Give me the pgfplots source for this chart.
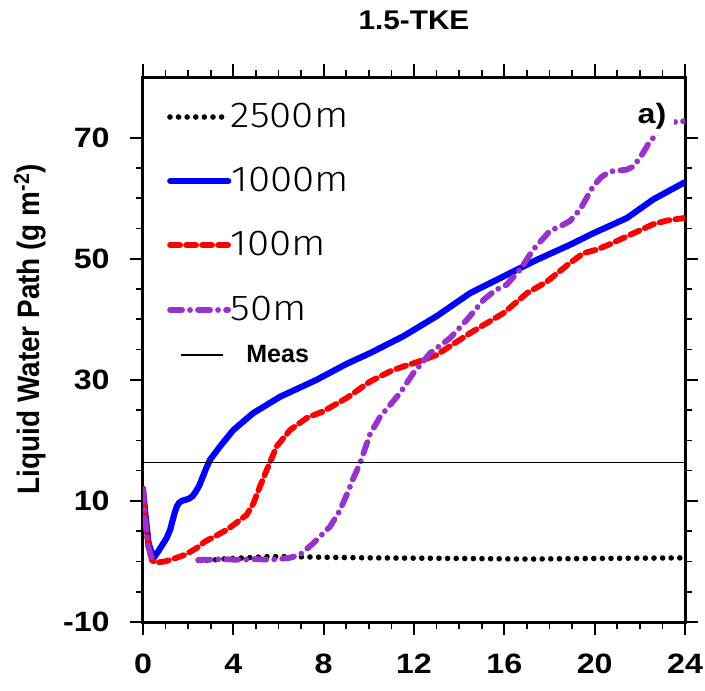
\documentclass[border=0pt]{standalone}
\usepackage{fontspec}
\setmainfont{Liberation Sans}
\newfontfamily\tickf{Liberation Sans}[FakeStretch=1.15]
\newfontfamily\titlef{Liberation Sans}[FakeStretch=1.1]
\newfontfamily\labf{Liberation Sans}[FakeStretch=0.9]
\newfontfamily\lightf{Fira Sans Light}[FakeStretch=1.12]
\usepackage{pgfplots}
\pgfplotsset{compat=1.18}
\definecolor{ncpurple}{RGB}{153,50,204}
\newcommand\tickfont{\tickf\bfseries\fontsize{14bp}{14bp}\selectfont}
\newcommand\LF{\lightf\fontsize{18bp}{18bp}\selectfont}
\pgfplotsset{
  base/.style={
    scale only axis, width=271bp, height=272.5bp,
    xmin=0, xmax=24, ymin=-10, ymax=80,
    unbounded coords=jump,
    legend cell align=left,
    legend style={draw=none, fill=none, inner sep=0pt, outer sep=0pt,
      /tikz/column sep=0pt, nodes={inner sep=0pt}, anchor=west},
    legend image code/.code={\draw[##1] (0bp,0bp) -- (29bp,0bp);},
  },
  over/.style={base, hide axis},
}
\begin{document}
\begin{tikzpicture}
% frame axis with 2500m
\begin{axis}[
  base,
  xtick={0,4,...,24}, ytick={-10,10,...,70},
  minor x tick num=3, minor y tick num=3,
  tick align=outside,
  major tick length=6.5bp, minor tick length=3.5bp,
  every major tick/.append style={line width=1bp, black},
  every minor tick/.append style={line width=0.8bp, black},
  axis line style={line width=1.5bp},
  /pgf/number format/assume math mode=true,
  ticklabel style={font=\tickfont},
  xticklabel style={anchor=north, inner sep=0pt, yshift=-9.5bp},
  yticklabel style={anchor=east, inner sep=0pt, xshift=-10bp},
  title={1.5-TKE},
  every axis title/.style={at={(axis description cs:0.5,1.104)}, anchor=center, font=\titlef\bfseries\fontsize{13.5bp}{13.5bp}\selectfont},
  ylabel={Liquid Water Path (g m\textsuperscript{-2})},
  ylabel style={at={(axis description cs:-0.2085,0.5376)}, anchor=center, font=\labf\bfseries\fontsize{15.5bp}{15.5bp}\selectfont},
  legend style={at={(axis description cs:0.0446,0.9266)}},
]
\addplot[black, line width=2.8bp, line cap=round, dash pattern=on 0bp off 4.3bp] coordinates {
(0,12.0) (0.1,8) (0.25,2.5) (0.45,0.4) (1.5,nan)
(2.45,0.2) (3,0.2) (3.5,0.4) (4,0.5) (5,0.7) (5.5,0.8) (6.5,0.8) (8,0.7) (10,0.6)
(12,0.55) (14,0.5) (17,0.4) (20,0.5) (22,0.55) (24,0.6)};
\addlegendentry{\LF 2500m}
\coordinate (bl) at (axis description cs:-0.2638,-0.1248);
\coordinate (tr) at (axis description cs:1.0369,1.1413);
\end{axis}
% 1000m
\begin{axis}[over, legend style={at={(axis description cs:0.0446,0.8092)}}]
\addplot[blue, line width=3.1bp, line cap=round, line join=round] coordinates {
(0,12) (0.1,8) (0.25,3) (0.46,0.5) (0.7,1.8) (0.9,3.0) (1.05,3.9) (1.2,5.2) (1.3,6.6)
(1.4,8.0) (1.5,9.1) (1.6,9.7) (1.75,10.05) (1.9,10.2) (2.05,10.4) (2.2,10.8) (2.35,11.6)
(2.5,12.6) (2.65,14.0) (2.8,15.4) (2.97,16.8)
(3.41,19.0) (4.0,21.7) (4.88,24.5) (6.07,27.2) (7.69,30) (9,32.6) (10.05,34.4) (11.53,37.2)
(13,40.5) (14.48,44.3) (16.25,47.6) (17.43,49.8) (18.91,52.3) (19.94,54.2) (21.42,56.7)
(22.6,59.8) (23.93,62.5) (24,62.6)};
\addlegendentry{\LF 1000m}
\end{axis}
% 100m
\begin{axis}[over, legend style={at={(axis description cs:0.0446,0.6917)}}]
\addplot[red, line width=2.9bp, line cap=round, dash pattern=on 5bp off 3bp] coordinates {
(0,12) (0.1,7) (0.24,2.4) (0.4,0.2) (0.55,-0.2) (0.97,0.0) (1.4,0.5) (1.86,1.1) (2.37,2.2)
(2.75,3.3) (3.26,4.3) (3.7,5.2) (4.07,6.2) (4.59,7.7) (4.89,9.6) (5.18,12.4) (5.48,15.1)
(5.92,19) (6.51,21.7) (7.25,23.7) (7.99,24.8) (9.02,27) (10.05,29.7) (11,31.5) (11.53,32.2)
(12.2,33) (13.0,34.1) (14.48,37.7) (15.96,41.0) (17.0,44.3) (17.88,46.2) (18.91,49.3)
(19.5,50.9) (20.09,51.5) (20.68,52.4) (21.72,54.2) (22.6,55.7) (23.2,56.3) (23.93,56.7) (24,56.8)};
\addlegendentry{\LF 100m}
\end{axis}
% 50m
\begin{axis}[over, legend style={at={(axis description cs:0.0446,0.5725)}}]
\addplot[ncpurple, line width=2.9bp, line cap=round, dash pattern=on 6bp off 4bp on 0bp off 4bp] coordinates {
(0,11.8) (0.09,6.9) (0.24,2.4) (0.4,0.3) (0.53,0) (1.5,nan)
(2.45,0.25) (3,0.3) (3.5,0.4) (4,0.3) (4.5,0.3) (5,0.4) (5.5,0.3) (6,0.4) (6.5,0.6) (6.95,1.1)
(7.54,3.0) (8.28,5.75) (8.7,8.3) (9.02,11.0) (9.3,13.6) (9.61,16.2) (10.05,21) (10.5,23.9)
(11.38,27.8) (11.97,31.1) (12.71,34.4) (13.6,36.9) (14.34,39.9) (15.08,43.2) (15.6,44.8)
(16.1,45.7) (16.7,48.2) (17.28,51.5) (18.02,54.6) (18.5,55.4) (18.9,56.2) (19.35,58.1)
(19.94,62) (20.3,63.5) (20.68,64.4) (21.42,64.7) (21.7,65.2) (22.0,66.6) (22.45,69.4)
(23.0,71.5) (23.63,72.7) (24,72.7)};
\addlegendentry{\LF 50m}
\end{axis}
% Meas
\begin{axis}[over, legend style={at={(axis description cs:0.0683,0.4899)}},
  legend image code/.code={\draw[black, line width=0.7bp] (0bp,0bp) -- (21bp,0bp);}]
\addplot[black, line width=0.7bp] coordinates {(0,16.3) (24,16.3)};
\addlegendentry{\bfseries\fontsize{12.5bp}{12.5bp}\selectfont\hspace{11.5bp}Meas}
\node[fill=white, inner xsep=4bp, inner ysep=3bp, font=\tickfont] at (axis description cs:0.939,0.928) {a)};
\end{axis}
\pgfresetboundingbox
\path (bl) rectangle (tr);
\end{tikzpicture}
\end{document}
